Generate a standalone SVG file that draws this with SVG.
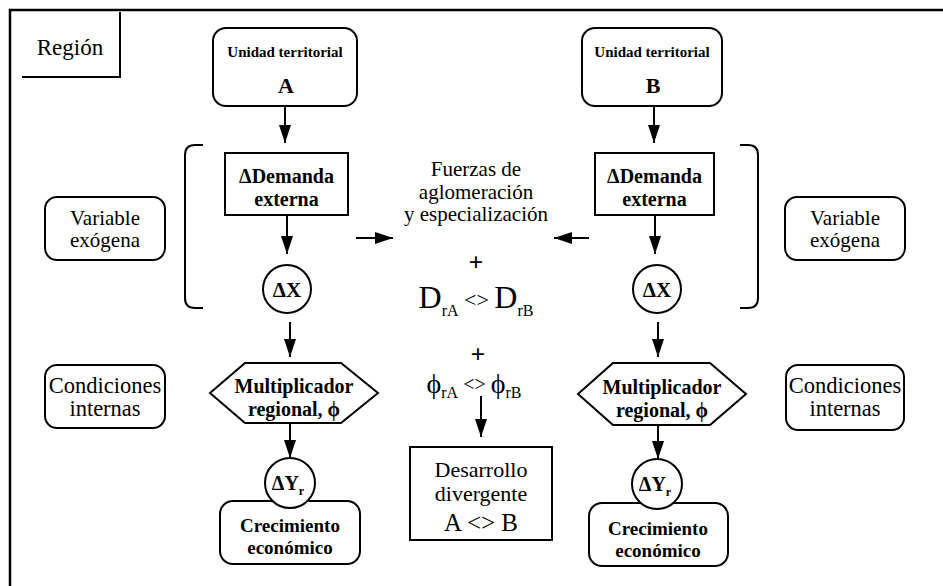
<svg xmlns="http://www.w3.org/2000/svg" width="943" height="586" viewBox="0 0 943 586">
<style>
  .bx{fill:#fff;stroke:#000;stroke-width:2}
  .ln{fill:none;stroke:#000;stroke-width:2}
  text{fill:#000;text-anchor:middle}
  .b{font-weight:bold}
  .n{font-size:21px}
  .m{font-size:20px}
  .s{font-size:15px}
</style>
<defs>
  <marker id="ah" viewBox="0 0 18 12" refX="18" refY="6" markerWidth="18" markerHeight="12" markerUnits="userSpaceOnUse" orient="auto">
    <path d="M0,0 L18,6 L0,12 z" fill="#000"/>
  </marker>
</defs>
<rect width="943" height="586" fill="#fff"/>
<g id="frame">
  <path d="M10,586 V10 H943" fill="none" stroke="#000" stroke-width="2.5"/>
</g>
<g font-family="'Liberation Serif', 'DejaVu Serif', serif">
<g id="region">
  <path d="M120,12 V77 H22" class="ln"/>
  <text x="70" y="55" font-size="23">Región</text>
</g>
<g id="unidadA">
  <rect x="213" y="28" width="144" height="78" rx="13" class="bx"/>
  <text x="285" y="57" class="b s">Unidad territorial</text>
  <text x="286" y="93" class="b" font-size="22">A</text>
</g>
<g id="unidadB">
  <rect x="582" y="28" width="140" height="78" rx="13" class="bx"/>
  <text x="652" y="57" class="b s">Unidad territorial</text>
  <text x="653" y="93" class="b" font-size="22">B</text>
</g>
<g id="demandaA">
  <rect x="225" y="153" width="123" height="62" class="bx"/>
  <text x="286.5" y="183" class="b m">ΔDemanda</text>
  <text x="286.5" y="206" class="b m">externa</text>
</g>
<g id="demandaB">
  <rect x="595" y="153" width="119" height="62" class="bx"/>
  <text x="654.5" y="183" class="b m">ΔDemanda</text>
  <text x="654.5" y="206" class="b m">externa</text>
</g>
<g id="brackets">
  <path d="M203,145 H195 Q185,145 185,155 V298 Q185,308 195,308 H203" class="ln"/>
  <path d="M740,145 H748 Q758,145 758,155 V298 Q758,308 748,308 H740" class="ln"/>
</g>
<g id="dxA">
  <circle cx="287" cy="289" r="24" class="bx"/>
  <text x="287" y="297" class="b n">ΔX</text>
</g>
<g id="dxB">
  <circle cx="657" cy="289" r="24" class="bx"/>
  <text x="657" y="297" class="b n">ΔX</text>
</g>
<g id="varA">
  <rect x="45" y="197" width="120" height="63" rx="12" class="bx"/>
  <text x="105" y="225" class="n">Variable</text>
  <text x="105" y="247" class="n">exógena</text>
</g>
<g id="varB">
  <rect x="785" y="197" width="120" height="63" rx="12" class="bx"/>
  <text x="845" y="225" class="n">Variable</text>
  <text x="845" y="247" class="n">exógena</text>
</g>
<g id="condA">
  <rect x="45" y="365" width="120" height="63" rx="12" class="bx"/>
  <text x="105" y="393" font-size="22.5">Condiciones</text>
  <text x="105" y="416" font-size="22.5">internas</text>
</g>
<g id="condB">
  <rect x="786" y="365" width="118" height="65" rx="12" class="bx"/>
  <text x="845" y="393" font-size="22.5">Condiciones</text>
  <text x="845" y="416" font-size="22.5">internas</text>
</g>
<g id="centro">
  <text x="476" y="176" class="n">Fuerzas de</text>
  <text x="476" y="199" class="n">aglomeración</text>
  <text x="476" y="221" class="n">y especialización</text>
  <text x="476" y="271" class="b" font-size="26">+</text>
  <text x="476" y="308" font-size="32">D<tspan font-size="16" dy="8">rA</tspan><tspan font-size="22" dy="-9"> &lt;&gt; </tspan><tspan dy="1">D</tspan><tspan font-size="16" dy="8">rB</tspan></text>
  <text x="478" y="363" class="b" font-size="26">+</text>
  <text x="474" y="393" font-size="28">ϕ<tspan font-size="16" dy="5">rA</tspan><tspan font-size="20" dy="-7"> &lt;&gt; </tspan><tspan dy="2">ϕ</tspan><tspan font-size="16" dy="5">rB</tspan></text>
</g>
<g id="desarrollo">
  <rect x="410" y="447" width="142" height="93" class="bx"/>
  <text x="481" y="477" font-size="22">Desarrollo</text>
  <text x="481" y="501" font-size="22">divergente</text>
  <text x="481" y="531" font-size="25">A &lt;&gt; B</text>
</g>
<g id="multA">
  <polygon points="210,393 245,363 341,363 378,393 341,423 245,423" class="bx"/>
  <text x="294" y="393" class="b m">Multiplicador</text>
  <text x="294" y="416" class="b m">regional, ϕ</text>
</g>
<g id="multB">
  <polygon points="578,394 613,363 710,363 746,394 710,425 613,425" class="bx"/>
  <text x="662" y="394" class="b m">Multiplicador</text>
  <text x="662" y="417" class="b m">regional, ϕ</text>
</g>
<g id="crecA">
  <rect x="220" y="501" width="140" height="63" rx="13" class="bx"/>
  <text x="290" y="532" class="b" font-size="19">Crecimiento</text>
  <text x="290" y="554" class="b" font-size="19">económico</text>
</g>
<g id="crecB">
  <rect x="589" y="503" width="139" height="63" rx="13" class="bx"/>
  <text x="658" y="535" class="b" font-size="19">Crecimiento</text>
  <text x="658" y="557" class="b" font-size="19">económico</text>
</g>
<g id="dyA">
  <circle cx="290" cy="483" r="25" class="bx"/>
  <text x="288" y="490" class="b m">ΔY<tspan font-size="12" dy="5">r</tspan></text>
</g>
<g id="dyB">
  <circle cx="657" cy="484" r="25" class="bx"/>
  <text x="655" y="491" class="b m">ΔY<tspan font-size="12" dy="5">r</tspan></text>
</g>
</g>
<g id="connectors" stroke="#000" stroke-width="2" fill="none">
  <line x1="285" y1="106" x2="285" y2="143" marker-end="url(#ah)"/>
  <line x1="654" y1="106" x2="654" y2="143" marker-end="url(#ah)"/>
  <line x1="287" y1="215" x2="287" y2="254" marker-end="url(#ah)"/>
  <line x1="655" y1="215" x2="655" y2="254" marker-end="url(#ah)"/>
  <line x1="290" y1="322" x2="290" y2="357" marker-end="url(#ah)"/>
  <line x1="658" y1="322" x2="658" y2="357" marker-end="url(#ah)"/>
  <line x1="290" y1="423" x2="290" y2="458" marker-end="url(#ah)"/>
  <line x1="658" y1="425" x2="658" y2="459" marker-end="url(#ah)"/>
  <line x1="356" y1="238" x2="393" y2="238" marker-end="url(#ah)"/>
  <line x1="589" y1="238" x2="554" y2="238" marker-end="url(#ah)"/>
  <line x1="481" y1="396" x2="481" y2="437" marker-end="url(#ah)"/>
</g>
</svg>
